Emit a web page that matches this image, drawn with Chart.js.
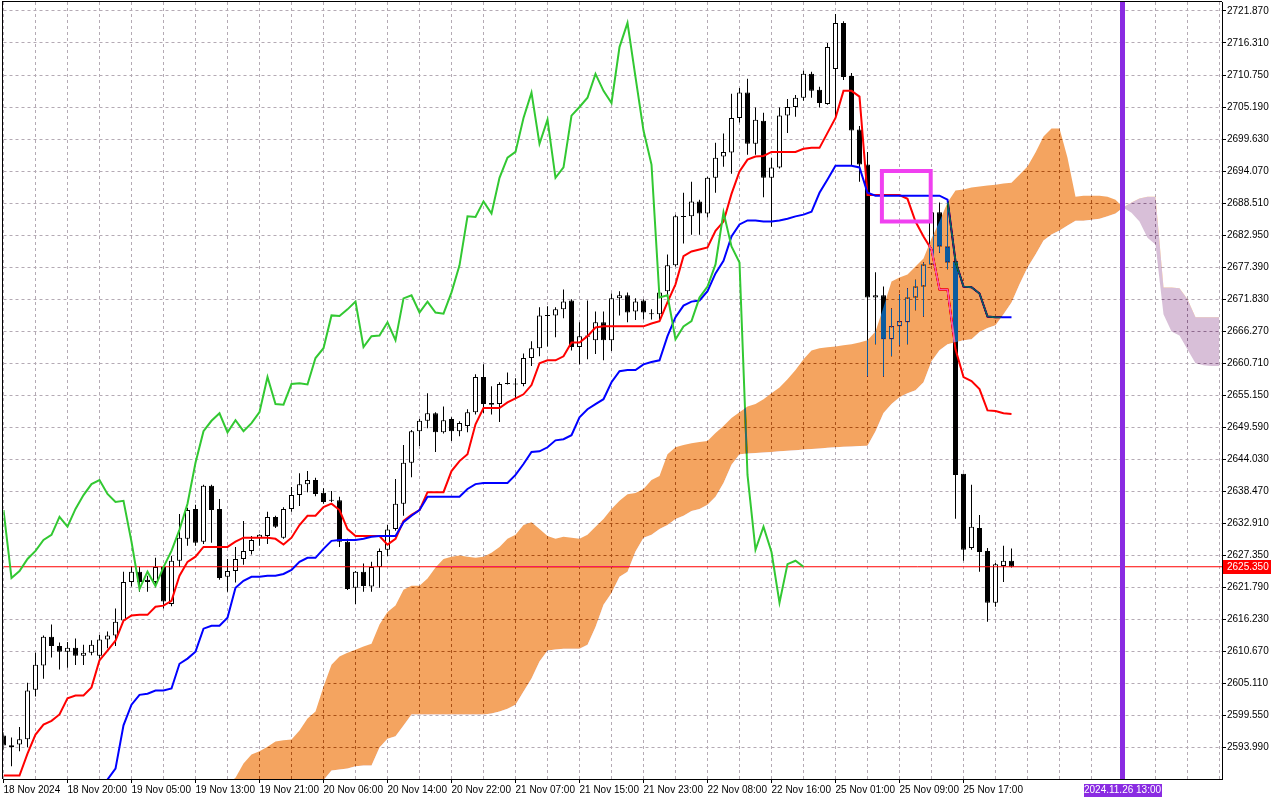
<!DOCTYPE html>
<html>
<head>
<meta charset="utf-8">
<title>XAUUSD H1 Ichimoku</title>
<script src="https://cdn.jsdelivr.net/npm/chart.js@4.4.1/dist/chart.umd.min.js"></script>
<style>
  html, body { margin: 0; padding: 0; background: #fff; }
  #wrap { width: 1280px; height: 800px; }
</style>
</head>
<body>
<div id="wrap"><canvas id="chart" width="1280" height="800"></canvas></div>
<script>
// H1 candles, bar 0 = 18 Nov 2024 12:00, last bar = 25 Nov 23:00
var opens = [2596.05, 2594.0, 2594.5, 2595.4, 2604.0, 2608.2, 2613.2, 2611.6, 2610.6, 2611.3,
  2609.9, 2610.4, 2609.9, 2612.7, 2613.4, 2616.0, 2622.7, 2624.5, 2623.1, 2622.7,
  2625.3, 2618.9, 2626.4, 2630.2, 2635.4, 2629.7, 2639.4, 2635.4, 2623.6, 2624.6,
  2626.7, 2628.1, 2630.36, 2630.7, 2634.0, 2630.4, 2635.4, 2637.8, 2639.7, 2640.4,
  2638.2, 2636.9, 2636.9, 2629.7, 2621.7, 2624.5, 2621.9, 2625.3, 2628.3, 2631.9,
  2636.3, 2643.4, 2648.9, 2650.7, 2652.0, 2648.7, 2651.0, 2648.9, 2649.8, 2652.2,
  2658.3, 2653.8, 2653.6, 2657.1, 2657.1, 2657.1, 2661.6, 2663.3, 2669.0, 2669.0,
  2670.05, 2671.6, 2663.5, 2665.3, 2664.7, 2667.8, 2664.7, 2671.96, 2672.5, 2669.7,
  2671.6, 2669.2, 2669.2, 2673.2, 2677.7, 2686.2, 2686.2, 2688.8, 2686.7, 2692.9,
  2696.6, 2697.3, 2703.3, 2707.7, 2698.8, 2702.8, 2692.9, 2694.7, 2703.7, 2705.2,
  2706.8, 2710.95, 2708.2, 2705.7, 2711.8, 2719.8, 2710.6, 2701.3, 2695.2, 2672.1,
  2672.5, 2664.85, 2667.1, 2667.8, 2672.1, 2674.0, 2677.85, 2686.9, 2680.97, 2678.4,
  2641.5, 2628.6, 2632.1, 2628.1, 2619.1, 2625.5, 2626.4];
var highs = [2596.6, 2595.7, 2597.5, 2605.2, 2610.4, 2613.4, 2615.3, 2612.2, 2612.3, 2612.9,
  2611.8, 2612.6, 2613.5, 2614.1, 2618.1, 2624.5, 2625.5, 2625.3, 2623.8, 2626.9,
  2625.5, 2627.2, 2634.5, 2635.6, 2636.1, 2639.6, 2639.6, 2637.1, 2626.7, 2628.8,
  2633.3, 2630.7, 2631.0, 2634.9, 2634.2, 2635.7, 2639.2, 2641.6, 2641.97, 2640.8,
  2639.0, 2638.5, 2637.5, 2630.2, 2624.6, 2625.9, 2626.2, 2628.5, 2632.6, 2640.6,
  2646.5, 2649.1, 2651.0, 2655.5, 2652.2, 2653.2, 2651.3, 2650.6, 2652.7, 2658.8,
  2660.5, 2656.7, 2657.4, 2659.1, 2658.1, 2662.4, 2664.5, 2670.4, 2670.6, 2670.4,
  2673.5, 2671.8, 2667.8, 2671.6, 2669.7, 2669.7, 2672.8, 2673.2, 2673.0, 2671.96,
  2671.8, 2670.05, 2673.2, 2679.6, 2686.5, 2690.3, 2692.2, 2689.1, 2693.1, 2699.0,
  2700.6, 2707.5, 2708.5, 2710.1, 2705.1, 2704.2, 2696.4, 2705.1, 2706.6, 2707.3,
  2711.5, 2711.3, 2708.7, 2716.3, 2721.35, 2720.1, 2711.1, 2701.9, 2697.4, 2676.5,
  2674.0, 2670.2, 2672.65, 2673.7, 2675.2, 2678.2, 2688.6, 2688.6, 2688.8, 2679.5,
  2641.5, 2639.6, 2634.35, 2628.6, 2626.0, 2629.0, 2628.5];
var lows = [2593.5, 2590.7, 2593.3, 2594.0, 2602.8, 2605.9, 2609.6, 2607.5, 2607.8, 2608.3,
  2608.3, 2610.0, 2609.4, 2611.2, 2611.6, 2615.8, 2621.9, 2621.0, 2621.0, 2622.1,
  2618.1, 2618.5, 2625.3, 2629.0, 2629.0, 2629.3, 2629.5, 2623.1, 2621.0, 2622.6,
  2625.7, 2627.5, 2629.0, 2629.3, 2632.1, 2630.2, 2634.9, 2635.9, 2638.3, 2637.6,
  2636.3, 2636.6, 2628.8, 2621.3, 2618.9, 2621.0, 2621.0, 2621.7, 2627.2, 2631.6,
  2634.2, 2640.9, 2646.3, 2649.4, 2645.3, 2648.5, 2647.2, 2648.0, 2648.7, 2651.8,
  2652.0, 2651.8, 2650.5, 2657.0, 2654.5, 2656.7, 2660.2, 2661.9, 2663.6, 2665.2,
  2668.5, 2662.9, 2660.5, 2661.4, 2662.3, 2661.2, 2662.8, 2669.0, 2667.8, 2668.2,
  2668.3, 2668.3, 2668.3, 2672.1, 2677.5, 2681.5, 2683.0, 2683.0, 2686.0, 2690.3,
  2694.8, 2693.6, 2702.5, 2696.9, 2696.9, 2689.5, 2684.4, 2694.5, 2700.7, 2703.5,
  2706.3, 2706.8, 2705.1, 2705.6, 2703.5, 2709.9, 2695.0, 2692.2, 2658.4, 2664.0,
  2658.4, 2661.9, 2663.8, 2664.0, 2669.9, 2668.8, 2677.85, 2679.9, 2677.0, 2633.7,
  2626.4, 2628.3, 2624.5, 2615.8, 2618.4, 2622.7, 2625.2];
var closes = [2594.3, 2594.35, 2595.4, 2603.85, 2608.35, 2613.2, 2611.6, 2610.6, 2611.3, 2609.9,
  2610.4, 2611.8, 2612.7, 2613.4, 2615.8, 2622.7, 2624.5, 2622.7, 2622.7, 2625.3,
  2619.3, 2626.4, 2630.4, 2635.2, 2629.5, 2639.4, 2635.2, 2623.4, 2624.6, 2626.7,
  2628.1, 2630.0, 2630.9, 2634.0, 2632.3, 2635.4, 2637.8, 2639.7, 2640.4, 2638.0,
  2636.6, 2636.8, 2629.7, 2621.5, 2624.5, 2622.0, 2625.3, 2628.1, 2631.8, 2636.3,
  2643.4, 2648.9, 2650.7, 2652.0, 2648.7, 2650.8, 2648.9, 2650.3, 2652.2, 2658.3,
  2653.6, 2653.5, 2657.1, 2657.2, 2657.0, 2661.6, 2663.3, 2669.0, 2668.9, 2670.05,
  2671.4, 2663.5, 2665.4, 2665.5, 2667.8, 2664.7, 2671.96, 2672.5, 2669.5, 2671.4,
  2669.5, 2669.3, 2673.0, 2677.7, 2686.2, 2686.1, 2688.8, 2686.7, 2692.9, 2696.4,
  2697.4, 2703.3, 2707.7, 2698.8, 2703.0, 2692.9, 2694.7, 2703.7, 2705.2, 2706.8,
  2710.95, 2708.0, 2705.9, 2715.6, 2719.8, 2710.4, 2701.1, 2695.2, 2672.1, 2672.5,
  2664.85, 2667.1, 2668.0, 2672.1, 2674.0, 2677.85, 2686.9, 2680.97, 2678.2, 2641.3,
  2628.3, 2632.3, 2627.9, 2619.1, 2625.8, 2626.4, 2625.35];

// Ichimoku lines
var tenkan = [2589.1, 2589.1, 2589.1, 2592.9, 2596.2, 2597.95, 2598.6, 2599.7, 2602.5, 2603.0,
  2603.0, 2604.4, 2609.1, 2610.8, 2612.5, 2616.0, 2616.9, 2617.0, 2617.0, 2618.4,
  2618.6, 2619.45, 2623.8, 2626.2, 2627.1, 2628.8, 2628.8, 2628.8, 2628.8, 2629.7,
  2630.4, 2630.4, 2630.4, 2630.4, 2630.2, 2629.2, 2630.4, 2632.6, 2634.2, 2634.2,
  2635.7, 2636.3, 2635.2, 2631.9, 2630.7, 2630.7, 2630.7, 2630.7, 2629.2, 2630.2,
  2633.3, 2634.35, 2635.2, 2638.3, 2638.3, 2638.3, 2641.97, 2643.7, 2644.9, 2650.1,
  2652.9, 2652.9, 2652.9, 2653.9, 2654.6, 2655.3, 2656.9, 2660.7, 2661.2, 2661.2,
  2661.9, 2664.3, 2664.3, 2665.4, 2666.9, 2667.1, 2667.1, 2667.1, 2667.1, 2667.1,
  2667.1, 2667.6, 2668.0, 2671.3, 2674.4, 2679.3, 2680.1, 2680.45, 2680.8, 2683.7,
  2685.3, 2690.1, 2694.0, 2696.05, 2696.6, 2696.7, 2697.4, 2697.4, 2697.4, 2697.4,
  2697.95, 2698.1, 2698.1, 2700.7, 2703.3, 2708.0, 2708.0, 2707.0, 2689.9, 2689.9,
  2689.9, 2689.9, 2689.9, 2689.25, 2685.3, 2682.7, 2680.45, 2673.5, 2673.5, 2663.1,
  2658.3, 2657.6, 2656.2, 2652.5, 2652.4, 2652.0, 2651.9];
var kijun = [null, null, null, null, null, null, null, null, null, null,
  null, null, 2585.0, 2588.4, 2590.3, 2597.8, 2601.4, 2603.1, 2603.3, 2603.85,
  2603.85, 2604.2, 2608.5, 2609.4, 2610.6, 2614.6, 2615.1, 2615.1, 2616.5, 2621.7,
  2622.9, 2623.6, 2623.6, 2623.8, 2623.8, 2624.1, 2624.8, 2626.2, 2626.9, 2626.9,
  2628.45, 2629.85, 2630.0, 2630.0, 2630.0, 2630.2, 2630.55, 2630.7, 2630.7, 2630.7,
  2633.1, 2634.2, 2635.2, 2637.5, 2637.5, 2637.5, 2637.5, 2637.5, 2638.85, 2639.7,
  2639.9, 2639.9, 2639.9, 2639.9, 2641.3, 2643.2, 2645.3, 2645.4, 2646.1, 2647.3,
  2647.5, 2648.2, 2651.3, 2652.7, 2653.6, 2654.45, 2657.4, 2659.3, 2659.5, 2659.5,
  2660.5, 2660.9, 2661.2, 2665.4, 2668.7, 2670.7, 2671.4, 2671.6, 2673.2, 2676.3,
  2678.5, 2682.7, 2684.8, 2685.5, 2685.5, 2685.3, 2685.3, 2685.5, 2685.8, 2686.2,
  2686.5, 2687.0, 2690.3, 2692.6, 2695.0, 2695.0, 2695.0, 2694.7, 2690.3, 2689.8,
  2689.8, 2689.8, 2689.8, 2689.8, 2689.8, 2689.8, 2689.8, 2689.8, 2689.1, 2678.4,
  2674.0, 2673.9, 2672.8, 2668.8, 2668.7, 2668.7, 2668.7];

// cloud, first value sits on bar 26, last on bar 152
var cloudStart = 26;
var senkouA = [2585.0, 2586.3, 2587.6, 2588.7, 2591.2, 2592.75, 2593.3, 2594.1, 2595.0, 2595.2,
  2595.35, 2596.9, 2599.0, 2600.2, 2604.5, 2608.35, 2609.75, 2610.4, 2610.95, 2611.5,
  2612.0, 2615.3, 2617.5, 2618.6, 2621.35, 2622.05, 2622.05, 2623.3, 2625.2, 2626.7,
  2627.1, 2627.3, 2627.1, 2626.9, 2627.1, 2627.8, 2628.8, 2630.2, 2630.9, 2632.6,
  2633.1, 2631.9, 2630.7, 2630.2, 2630.55, 2630.4, 2630.2, 2630.9, 2632.3, 2633.65,
  2635.4, 2636.8, 2637.95, 2638.15, 2638.85, 2640.4, 2641.1, 2644.9, 2646.1, 2646.5,
  2646.8, 2647.0, 2647.2, 2648.6, 2649.8, 2651.2, 2652.2, 2653.2, 2653.6, 2654.45,
  2655.5, 2656.5, 2657.9, 2659.5, 2661.4, 2662.9, 2663.3, 2663.45, 2663.6, 2663.8,
  2664.0, 2664.3, 2664.7, 2666.2, 2670.4, 2674.9, 2675.6, 2676.1, 2677.5, 2678.9,
  2682.35, 2685.3, 2688.6, 2690.7, 2690.85, 2691.2, 2691.4, 2691.55, 2691.7, 2691.9,
  2692.05, 2693.45, 2694.85, 2697.3, 2700.05, 2701.45, 2701.45, 2696.4, 2689.6, 2689.8,
  2689.8, 2689.8, 2689.6, 2689.1, 2687.7, 2686.85, 2685.3, 2682.5, 2681.3, 2669.2,
  2666.2, 2665.5, 2663.1, 2660.7, 2660.35, 2660.2, 2660.2];
var senkouB = [2578.0, 2578.5, 2579.5, 2580.0, 2581.0, 2582.0, 2583.0, 2583.5, 2584.0, 2585.0,
  2585.5, 2586.0, 2587.0, 2587.5, 2588.3, 2589.98, 2590.15, 2590.3, 2590.7, 2590.85,
  2590.85, 2593.95, 2595.5, 2595.9, 2597.8, 2599.7, 2599.7, 2599.7, 2599.7, 2599.7,
  2599.7, 2599.7, 2599.7, 2599.7, 2599.7, 2599.85, 2600.2, 2600.7, 2601.4, 2603.7,
  2605.95, 2608.9, 2610.8, 2611.0, 2611.1, 2611.1, 2611.1, 2611.8, 2614.9, 2618.75,
  2620.8, 2623.6, 2624.5, 2628.0, 2630.4, 2630.9, 2631.9, 2632.6, 2633.65, 2634.2,
  2635.05, 2635.4, 2636.1, 2637.5, 2639.9, 2643.05, 2644.9, 2645.0, 2645.1, 2645.2,
  2645.3, 2645.4, 2645.5, 2645.6, 2645.7, 2645.8, 2645.9, 2646.0, 2646.1, 2646.2,
  2646.25, 2646.3, 2646.35, 2648.9, 2652.05, 2653.6, 2654.8, 2655.5, 2656.0, 2657.4,
  2661.05, 2662.95, 2664.0, 2664.35, 2664.7, 2664.85, 2666.1, 2666.8, 2667.3, 2669.2,
  2671.25, 2674.4, 2677.3, 2679.6, 2682.0, 2683.05, 2683.75, 2684.6, 2685.45, 2685.45,
  2685.6, 2685.8, 2686.2, 2686.7, 2687.8, 2688.6, 2689.3, 2689.6, 2689.6, 2673.85,
  2673.85, 2673.7, 2671.8, 2668.7, 2668.7, 2668.7, 2668.7];
var chikouShift = 26;

var timeLabelBars = [0, 8, 16, 24, 32, 40, 48, 56, 64, 72, 80, 88, 96, 104, 112, 120];
var timeLabels = ['18 Nov 2024', '18 Nov 20:00', '19 Nov 05:00', '19 Nov 13:00', '19 Nov 21:00',
  '20 Nov 06:00', '20 Nov 14:00', '20 Nov 22:00', '21 Nov 07:00', '21 Nov 15:00', '21 Nov 23:00',
  '22 Nov 08:00', '22 Nov 16:00', '25 Nov 01:00', '25 Nov 09:00', '25 Nov 17:00'];
var priceTicks = [2593.99, 2599.55, 2605.11, 2610.67, 2616.23, 2621.79, 2627.35, 2632.91,
  2638.47, 2644.03, 2649.59, 2655.15, 2660.71, 2666.27, 2671.83, 2677.39, 2682.95, 2688.51,
  2694.07, 2699.63, 2705.19, 2710.75, 2716.31, 2721.87];

// drawn objects
var markerBar = 139.875;
var markerLabel = '2024.11.26 13:00';
var boxBars = [109.8, 115.9];
var boxPrices = [2685.3, 2694.1];

var yMin = 2588.49, yMax = 2723.43;
var xMin = 0, xMax = 152.3125;
var gridStep = 4;
var lastPrice = closes[closes.length - 1];

function pts(arr, start) {
  var out = [];
  arr.forEach(function (v, k) { if (v !== null) out.push({x: start + k, y: v}); });
  return out;
}

var wickData = highs.map(function (h, i) { return {x: i, y: [lows[i], h]}; });
var bodyData = opens.map(function (o, i) { return {x: i, y: [Math.min(o, closes[i]), Math.max(o, closes[i])]}; });
var bodyFill = opens.map(function (o, i) { return closes[i] >= o ? '#ffffff' : '#000000'; });
var chikou = closes.slice(chikouShift);

var gridBars = [];
for (var b = 0; b <= xMax; b += gridStep) gridBars.push(b);

var font = {family: '"Liberation Sans", Arial, sans-serif', size: 10};
var gridColor = '#b4aab4';

// MT4 draws the cloud in XOR mode; 'difference' gives the same look
var mtPlugin = {
  id: 'mt',
  beforeDraw: function (chart) {
    var c = chart.ctx;
    c.save();
    c.fillStyle = '#ffffff';
    c.fillRect(0, 0, chart.width, chart.height);
    c.restore();
  },
  afterDatasetDraw: function (chart, args) {
    var label = chart.data.datasets[args.index].label;
    if (label === 'Senkou Span B') chart.ctx.globalCompositeOperation = 'difference';
    if (label === 'Senkou Span A') chart.ctx.globalCompositeOperation = 'source-over';
  },
  afterDatasetsDraw: function (chart) {
    chart.ctx.globalCompositeOperation = 'source-over';
  },
  afterDraw: function (chart) {
    var c = chart.ctx, a = chart.chartArea;
    var xs = chart.scales.x, ys = chart.scales.y;
    var l = Math.floor(a.left) - 1, t = Math.floor(a.top) - 1;
    c.save();
    c.fillStyle = '#000';
    c.fillRect(l, t, Math.round(a.right) - l, 1);
    c.fillRect(l, t, 1, Math.round(a.bottom) - t);

    c.font = font.size + 'px ' + font.family;
    c.textBaseline = 'middle';

    var py = Math.round(ys.getPixelForValue(lastPrice));
    c.fillStyle = '#ff0000';
    c.fillRect(a.right + 1, py - 7, 48, 14);
    c.fillStyle = '#ffffff';
    c.textAlign = 'left';
    c.fillText(lastPrice.toFixed(3), a.right + 5, py + 0.5);

    var vx = xs.getPixelForValue(markerBar);
    c.fillStyle = '#8a2be2';
    c.fillRect(Math.round(vx - 39), a.bottom + 5, 78, 13);
    c.fillStyle = '#ffffff';
    c.textAlign = 'center';
    c.fillText(markerLabel, vx, a.bottom + 11.5);
    c.restore();
  }
};

new Chart(document.getElementById('chart'), {
  type: 'line',
  data: {
    datasets: [
      {type: 'bar', label: 'wick', data: wickData, backgroundColor: '#000000', borderWidth: 0,
        barThickness: 1, grouped: false, inflateAmount: 0, order: 9},
      {type: 'bar', label: 'body', data: bodyData, backgroundColor: bodyFill, borderColor: '#000000',
        borderWidth: 1, borderSkipped: false, barThickness: 5, grouped: false, inflateAmount: 0,
        minBarLength: 1, order: 8},
      {label: 'price', data: [{x: xMin, y: lastPrice}, {x: xMax, y: lastPrice}],
        borderColor: '#ff0000', borderWidth: 1, order: 7},
      {label: 'Tenkan-sen', data: pts(tenkan, 0), borderColor: '#ff0000', borderWidth: 2, order: 6},
      {label: 'Kijun-sen', data: pts(kijun, 0), borderColor: '#0000ff', borderWidth: 2, order: 5},
      {label: 'Chikou Span', data: pts(chikou, 0), borderColor: '#32c832', borderWidth: 2, order: 4},
      {label: 'Senkou Span A', data: pts(senkouA, cloudStart), borderWidth: 0, borderColor: 'rgba(0,0,0,0)',
        fill: {target: '+1', above: 'rgb(11,91,159)', below: 'rgb(39,64,39)'}, order: 2},
      {label: 'Senkou Span B', data: pts(senkouB, cloudStart), borderWidth: 0, borderColor: 'rgba(0,0,0,0)',
        order: 3},
      {label: 'marker', data: [{x: markerBar, y: yMin}, {x: markerBar, y: yMax}],
        borderColor: '#8a2be2', borderWidth: 5, order: 1},
      {label: 'box', data: [{x: boxBars[0], y: boxPrices[1]}, {x: boxBars[1], y: boxPrices[1]},
        {x: boxBars[1], y: boxPrices[0]}, {x: boxBars[0], y: boxPrices[0]}, {x: boxBars[0], y: boxPrices[1]}],
        borderColor: '#f040f0', borderWidth: 4, borderCapStyle: 'square', borderJoinStyle: 'miter', order: 0}
    ]
  },
  options: {
    responsive: false,
    devicePixelRatio: 1,
    animation: false,
    events: [],
    layout: {padding: {left: 3.5, top: 2, right: 0, bottom: 0}},
    elements: {point: {radius: 0}, line: {tension: 0, fill: false}},
    plugins: {legend: {display: false}, tooltip: {enabled: false}},
    scales: {
      x: {
        type: 'linear', min: xMin, max: xMax, offset: false,
        afterBuildTicks: function (s) { s.ticks = gridBars.map(function (v) { return {value: v}; }); },
        afterFit: function (s) { s.height = 21; s.paddingLeft = 0; s.paddingRight = 0; },
        ticks: {
          autoSkip: false, maxRotation: 0, align: 'start', padding: 1, color: '#000', font: font,
          callback: function (v) { var k = timeLabelBars.indexOf(v); return k < 0 ? '' : timeLabels[k]; }
        },
        grid: {
          offset: false, color: gridColor, lineWidth: 1, tickLength: 4,
          tickColor: function (ctx) {
            return ctx.tick && timeLabelBars.indexOf(ctx.tick.value) >= 0 ? '#000' : 'rgba(0,0,0,0)';
          }
        },
        border: {display: true, color: '#000', width: 1, dash: [3, 3]}
      },
      y: {
        type: 'linear', position: 'right', min: yMin, max: yMax, beginAtZero: false,
        afterBuildTicks: function (s) { s.ticks = priceTicks.map(function (v) { return {value: v}; }); },
        afterFit: function (s) { s.width = 58; s.paddingTop = 0; s.paddingBottom = 0; },
        ticks: {
          autoSkip: false, padding: 1, color: '#000', font: font,
          callback: function (v) { return v.toFixed(3); }
        },
        grid: {color: gridColor, lineWidth: 1, tickLength: 4, tickColor: '#000'},
        border: {display: true, color: '#000', width: 1, dash: [3, 3]}
      }
    }
  },
  plugins: [mtPlugin]
});
</script>
</body>
</html>
